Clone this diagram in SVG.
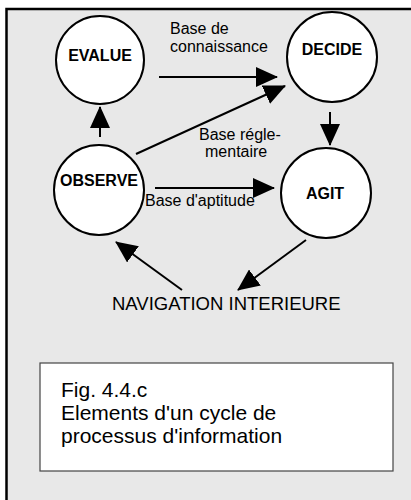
<svg xmlns="http://www.w3.org/2000/svg" width="411" height="500" viewBox="0 0 411 500">
<defs>
<style>
.node circle{fill:#fff;stroke:#000;stroke-width:2}
.node text{font-family:"Liberation Sans",Arial,sans-serif;font-weight:bold;font-size:16px;text-anchor:middle;fill:#000}
.lbl{font-family:"Liberation Sans",Arial,sans-serif;font-size:16px;fill:#000}
.cap{font-family:"Liberation Sans",Arial,sans-serif;font-size:21px;fill:#000}
.conn line{stroke:#000;stroke-width:2;marker-end:url(#ah)}
</style>
<marker id="ah" markerUnits="userSpaceOnUse" markerWidth="22" markerHeight="20" viewBox="0 0 22 20" refX="21" refY="10" orient="auto">
<path d="M0,0 L22,10 L0,20 Z" fill="#000"/>
</marker>
</defs>
<rect x="0" y="0" width="411" height="500" fill="#fff"/>
<rect x="6.5" y="9" width="430" height="520" fill="#e8e8e8" stroke="#000" stroke-width="2.5"/>
<g class="conn">
<line x1="159" y1="77" x2="277" y2="77"/>
<line x1="136" y1="154" x2="285" y2="86"/>
<line x1="100" y1="137" x2="100" y2="107"/>
<line x1="330" y1="112" x2="330" y2="145"/>
<line x1="155" y1="188" x2="274" y2="188"/>
<line x1="306" y1="240" x2="238" y2="290"/>
<line x1="182" y1="290" x2="116" y2="242"/>
</g>
<g id="evalue" class="node"><circle cx="100" cy="60" r="44"/><text x="100" y="61">EVALUE</text></g>
<g id="decide" class="node"><circle cx="332" cy="57" r="45"/><text x="332" y="55">DECIDE</text></g>
<g id="observe" class="node"><circle cx="99" cy="190" r="45"/><text x="99" y="186">OBSERVE</text></g>
<g id="agit" class="node"><circle cx="326" cy="193" r="45"/><text x="325" y="199">AGIT</text></g>
<g id="labels">
<text class="lbl" x="170" y="34">Base de</text>
<text class="lbl" x="170" y="52">connaissance</text>
<text class="lbl" x="199" y="140">Base régle-</text>
<text class="lbl" x="205" y="157">mentaire</text>
<text class="lbl" x="145" y="206">Base d'aptitude</text>
<text class="lbl" x="112" y="310" style="font-size:18.5px">NAVIGATION INTERIEURE</text>
</g>
<g id="caption">
<rect x="40" y="363" width="353" height="108" fill="#fff" stroke="#444" stroke-width="1.2"/>
<text class="cap" x="61" y="397">Fig. 4.4.c</text>
<text class="cap" x="61" y="420">Elements d'un cycle de</text>
<text class="cap" x="61" y="443">processus d'information</text>
</g>
</svg>
